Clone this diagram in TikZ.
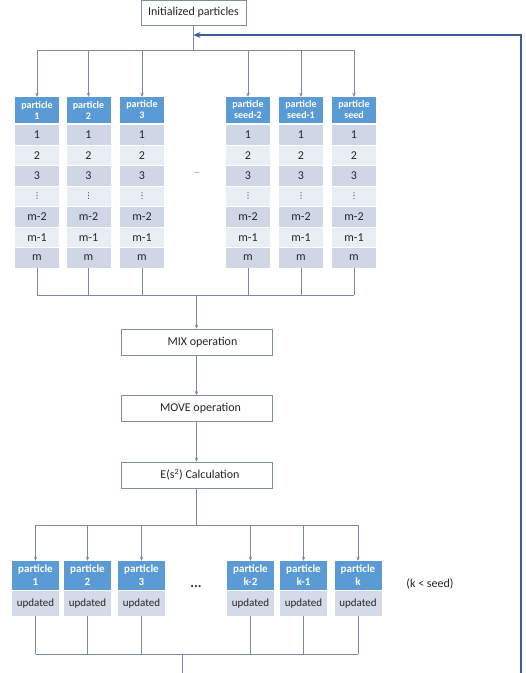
\documentclass[tikz,border=0pt]{standalone}
\usepackage{fontspec}
\setmainfont{Carlito}
\newfontfamily\dvsans{DejaVu Sans}
\usetikzlibrary{arrows.meta}
\definecolor{hblue}{HTML}{5B9BD5}
\definecolor{cellA}{HTML}{CFD7E7}
\definecolor{cellB}{HTML}{E9EDF4}
\definecolor{updc}{HTML}{D3DAE8}
\definecolor{connc}{HTML}{7A8AA6}
\definecolor{boxc}{HTML}{7F8DA5}
\definecolor{fbc}{HTML}{3B5CA0}
\definecolor{txt}{HTML}{262626}
\tikzset{
  conn/.style={draw=connc, line width=0.9pt},
  arr/.style={conn, -{Stealth[length=4pt,width=3.4pt]}},
  fbline/.style={draw=fbc, line width=1.2pt, -{Stealth[length=7pt,width=6pt]}},
  procbox/.style={draw=boxc, line width=0.8pt, fill=white, minimum width=151pt, minimum height=26pt, inner sep=0pt, text=txt, font=\fontsize{12}{14}\selectfont},
  hdr/.style={fill=hblue, text=white, minimum width=44pt, minimum height=26pt, inner sep=0pt, align=center, font=\fontsize{10}{11}\selectfont\bfseries},
  lhdr/.style={fill=hblue, text=white, minimum width=47pt, minimum height=29pt, inner sep=0pt, align=center, font=\fontsize{11}{13}\selectfont\bfseries},
  cellbox/.style={minimum width=44pt, minimum height=19.5pt, inner sep=0pt, text=txt, font=\fontsize{12}{14}\selectfont},
  updbox/.style={fill=updc, minimum width=47pt, minimum height=25pt, inner sep=0pt, text=txt, font=\fontsize{11}{13}\selectfont},
  plain/.style={inner sep=0pt, text=txt}
}
\begin{document}
\begin{tikzpicture}[x=1pt,y=-1pt]
\useasboundingbox (0,0) rectangle (526,673);
% top box
\node[procbox, minimum width=105pt, minimum height=25pt] (init) at (193.5,12.5) {Initialized particles};
\coordinate (tbus) at (193.5,50);
\coordinate (fb) at (193.5,35);
\coordinate (fbstart) at (521,673);
% upper particle columns
\foreach \i/\x/\lab in {1/37/1, 2/88.5/2, 3/142/3, 4/248/seed-2, 5/301/seed-1, 6/354/seed}{
  \node[hdr] (uh\i) at (\x,110) {particle\\\lab};
  \foreach \j/\t/\c in {0/1/cellA, 1/2/cellB, 2/3/cellA, 3/{\dvsans\fontsize{8}{8}\selectfont ⋮}/cellB, 4/m-2/cellA, 5/m-1/cellB, 6/m/cellA}{
    \node[cellbox, fill=\c] (u\i r\j) at (\x,134.75+20.5*\j) {\t};
  }
}
\node[plain, font=\fontsize{7}{8}\selectfont] (udots) at (197,173) {...};
% process boxes
\node[procbox] (mix) at (196.5,342) {\hspace{12pt}MIX operation};
\node[procbox] (move) at (196.5,408.5) {\hspace{8pt}MOVE operation};
\node[procbox] (calc) at (196.5,475) {\hspace{7pt}E(s\textsuperscript{2}) Calculation};
% lower particle columns
\foreach \i/\x/\lab in {1/35.5/1, 2/87.5/2, 3/141.5/3, 4/250.5/k-2, 5/303.5/k-1, 6/358/k}{
  \node[lhdr] (lh\i) at (\x,575.5) {particle\\\lab};
  \node[updbox] (lu\i) at (\x,603.5) {updated};
}
\node[plain, font=\fontsize{14}{14}\selectfont\bfseries] (ldots) at (196,587) {...};
\node[plain, font=\fontsize{12}{14}\selectfont] (kseed) at (430,584) {(k < seed)};
% connectors top
\draw[conn] (init.south) -- (tbus);
\draw[conn] (uh1.north |- tbus) -- (uh6.north |- tbus);
\foreach \i in {1,...,6}{ \draw[arr] (uh\i.north |- tbus) -- (uh\i.north); }
% feedback
\draw[fbline] (fbstart) |- (fb);
% upper bus to MIX
\coordinate (ubus) at (196.5,295);
\foreach \i in {1,...,6}{ \draw[conn] (u\i r6.south) -- (u\i r6.south |- ubus); }
\draw[conn] (u1r6.south |- ubus) -- (u6r6.south |- ubus);
\draw[arr] (ubus) -- (mix.north);
\draw[arr] (mix.south) -- (move.north);
\draw[arr] (move.south) -- (calc.north);
% calc to lower columns
\coordinate (lbus) at (196.5,525);
\draw[conn] (calc.south) -- (lbus);
\draw[conn] (lh1.north |- lbus) -- (lh6.north |- lbus);
\foreach \i in {1,...,6}{ \draw[arr] (lh\i.north |- lbus) -- (lh\i.north); }
% lower out bus
\coordinate (obus) at (182,654);
\coordinate (oend) at (182,673);
\foreach \i in {1,...,6}{ \draw[conn] (lu\i.south) -- (lu\i.south |- obus); }
\draw[conn] (lu1.south |- obus) -- (lu6.south |- obus);
\draw[conn] (obus) -- (oend);
\end{tikzpicture}
\end{document}
